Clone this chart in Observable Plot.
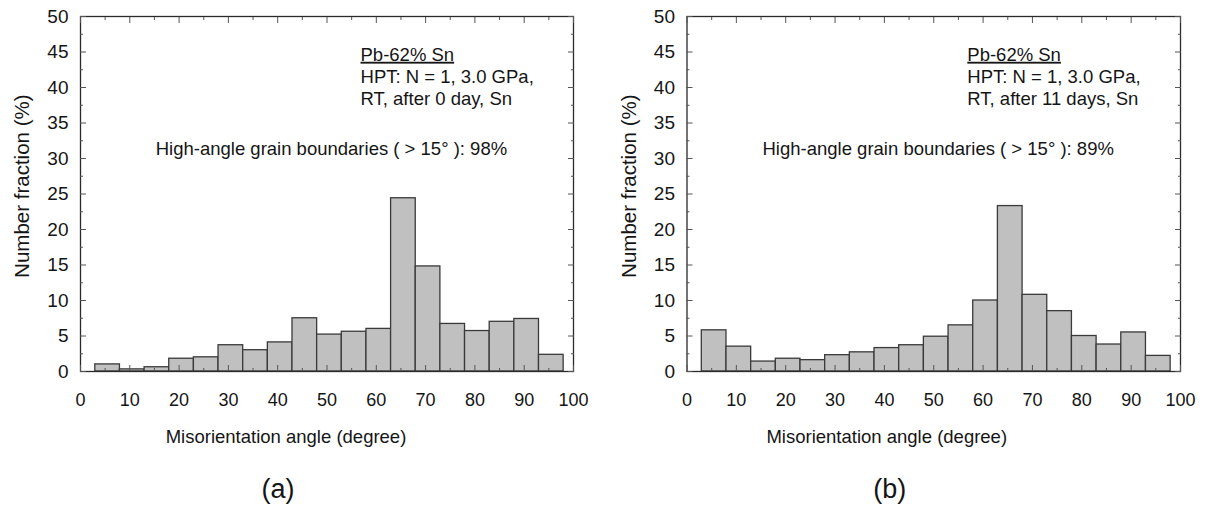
<!DOCTYPE html>
<html><head><meta charset="utf-8">
<script src="https://cdn.jsdelivr.net/npm/d3@7"></script>
<script src="https://cdn.jsdelivr.net/npm/@observablehq/plot@0.6"></script>
<style>
body{margin:0;background:#fff;}
#wrap{display:flex;width:1207px;height:515px;overflow:hidden;}
#wrap svg{display:block;font-family:Arial,"Liberation Sans",sans-serif;}
</style></head><body><div id="wrap"></div>
<script>
// Bin edges (degrees)
const binStart = [3, 8, 13, 18, 23, 28, 33, 38, 43, 48, 53, 58, 63, 68, 73, 78, 83, 88, 93];
const binEnd   = [8, 13, 18, 23, 28, 33, 38, 43, 48, 53, 58, 63, 68, 73, 78, 83, 88, 93, 98];
// Number fraction (%) — panel (a): after 0 day
const fractionA = [1.0, 0.3, 0.6, 1.8, 2.0, 3.7, 3.0, 4.1, 7.5, 5.2, 5.6, 6.0, 24.4, 14.8, 6.7, 5.7, 7.0, 7.4, 2.35];
// Number fraction (%) — panel (b): after 11 days
const fractionB = [5.8, 3.5, 1.4, 1.8, 1.6, 2.3, 2.7, 3.3, 3.7, 4.9, 6.5, 10.0, 23.3, 10.8, 8.5, 5.0, 3.8, 5.5, 2.2];
// Ticks
const xTicks = [0, 10, 20, 30, 40, 50, 60, 70, 80, 90, 100];
const xMinor = [5, 15, 25, 35, 45, 55, 65, 75, 85, 95];
const yTicks = [0, 5, 10, 15, 20, 25, 30, 35, 40, 45, 50];
const yMinor = [2.5, 7.5, 12.5, 17.5, 22.5, 27.5, 32.5, 37.5, 42.5, 47.5];
// Texts
const xTitle = "Misorientation angle (degree)";
const yTitle = "Number fraction (%)";
const alloy = "Pb-62% Sn";
const process = "HPT: N = 1, 3.0 GPa,";
const conditionA = "RT, after 0 day, Sn";
const conditionB = "RT, after 11 days, Sn";
const hagbA = "High-angle grain boundaries ( > 15° ): 98%";
const hagbB = "High-angle grain boundaries ( > 15° ): 89%";
const panelLabels = ["(a)", "(b)"];

const ink = "#151515";

function panel({values, condition, hagb, tag, width, marginLeft, marginRight, titleDx, tagDx}) {
  const bins = binStart.map((s, i) => ({x1: s, x2: binEnd[i], y: values[i]}));
  const svg = Plot.plot({
    width, height: 515,
    marginLeft, marginRight, marginTop: 16, marginBottom: 144,
    x: {domain: [0, 100]},
    y: {domain: [0, 50]},
    style: {fontFamily: 'Arial, "Liberation Sans", sans-serif', fontSize: "18px", color: ink, background: "#fff"},
    marks: [
      Plot.rectY(bins, {x1: "x1", x2: "x2", y: "y", fill: "#c0c0c0", stroke: "#3a3a3a", strokeWidth: 1.3}),
      Plot.frame({stroke: "#2a2a2a", strokeWidth: 1.3}),
      // major / minor inward ticks
      Plot.axisY({anchor: "left", ticks: yTicks, tickSize: -6, tickPadding: 18, label: null, fontSize: 19, stroke: "#555"}),
      Plot.axisY({anchor: "left", ticks: yMinor, tickSize: -3, tickFormat: () => "", label: null, stroke: "#555"}),
      Plot.axisY({anchor: "right", ticks: yTicks, tickSize: -6, tickFormat: () => "", label: null, stroke: "#555"}),
      Plot.axisY({anchor: "right", ticks: yMinor, tickSize: -3, tickFormat: () => "", label: null, stroke: "#555"}),
      Plot.axisX({anchor: "bottom", ticks: xTicks, tickSize: -6, tickPadding: 28, label: null, fontSize: 18, stroke: "#555"}),
      Plot.axisX({anchor: "bottom", ticks: xMinor, tickSize: -3, tickFormat: () => "", label: null, stroke: "#555"}),
      Plot.axisX({anchor: "top", ticks: xTicks, tickSize: -6, tickFormat: () => "", label: null, stroke: "#555"}),
      Plot.axisX({anchor: "top", ticks: xMinor, tickSize: -3, tickFormat: () => "", label: null, stroke: "#555"}),
      // annotations
      Plot.text([alloy], {x: 56.8, y: 44.6, textAnchor: "start", fontSize: 18.5, fill: ink}),
      Plot.text([process], {x: 56.8, y: 41.4, textAnchor: "start", fontSize: 18.5, fill: ink}),
      Plot.text([condition], {x: 56.8, y: 38.3, textAnchor: "start", fontSize: 18.5, fill: ink}),
      Plot.text([hagb], {x: 50.9, y: 31.3, textAnchor: "middle", fontSize: 18.5, fill: ink}),
      // axis titles and panel tag
      Plot.text([xTitle], {frameAnchor: "bottom", dx: titleDx, dy: 71, fontSize: 18.5, fill: ink}),
      Plot.text([tag], {frameAnchor: "bottom", dx: tagDx, dy: 126, fontSize: 27, fill: ink}),
      Plot.text([yTitle], {y: 26.1, frameAnchor: "left", textAnchor: "middle", lineAnchor: "middle", rotate: -90, dx: -58, fontSize: 20.5, fill: ink})
    ]
  });
  d3.select(svg).selectAll("text").filter(function() { return this.textContent === alloy; })
    .attr("text-decoration", "underline");
  return svg;
}

const wrap = document.getElementById("wrap");
wrap.append(panel({values: fractionA, condition: conditionA, hagb: hagbA, tag: panelLabels[0],
  width: 604, marginLeft: 80, marginRight: 31, titleDx: -41, tagDx: -49}));
wrap.append(panel({values: fractionB, condition: conditionB, hagb: hagbB, tag: panelLabels[1],
  width: 603, marginLeft: 82.5, marginRight: 27, titleDx: -47, tagDx: -44}));
</script>
</body></html>
